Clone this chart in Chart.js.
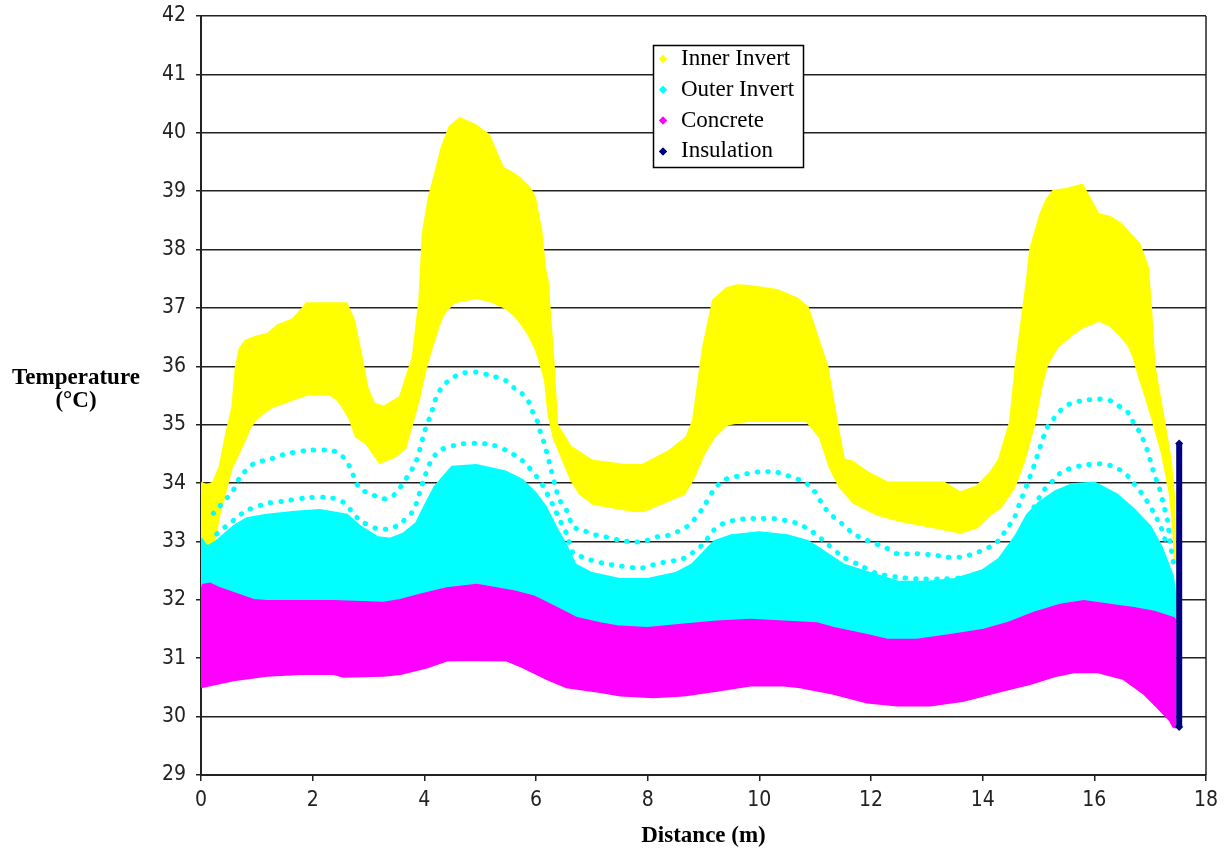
<!DOCTYPE html>
<html>
<head>
<meta charset="utf-8">
<title>Temperature vs Distance</title>
<script src="https://cdn.jsdelivr.net/npm/chart.js@4.4.0/dist/chart.umd.min.js"></script>
<style>
  html, body { margin: 0; padding: 0; background: #fff; }
  #wrap { width: 1225px; height: 850px; }
</style>
</head>
<body>
<div id="wrap"><canvas id="chart" width="1225" height="850"></canvas></div>
<script>
// series names as in the legend
const seriesNames = ['Inner Invert', 'Outer Invert', 'Concrete', 'Insulation'];

// Inner Invert: upper and lower edge of the yellow cloud [distance, temperature]
const innerTop = [[0,34.0],[0.1,33.95],[0.22,34.0],[0.34,34.27],[0.45,34.8],[0.57,35.3],[0.63,35.97],[0.7,36.3],[0.8,36.43],[0.98,36.5],[1.2,36.55],[1.38,36.7],[1.65,36.8],[1.9,37.07],[2.6,37.07],[2.73,36.8],[2.86,36.2],[2.97,35.64],[3.09,35.36],[3.27,35.3],[3.57,35.47],[3.8,36.15],[3.92,37.13],[3.98,38.27],[4.09,38.9],[4.2,39.3],[4.32,39.75],[4.46,40.1],[4.64,40.24],[4.9,40.13],[5.15,39.96],[5.4,39.4],[5.58,39.3],[5.73,39.2],[5.88,39.05],[5.97,38.9],[6.09,38.3],[6.15,37.7],[6.2,37.47],[6.31,36.0],[6.37,35.0],[6.61,34.62],[7.0,34.38],[7.6,34.3],[7.9,34.3],[8.4,34.55],[8.7,34.78],[8.82,35.07],[9.0,36.32],[9.18,37.13],[9.42,37.33],[9.6,37.38],[9.8,37.37],[10.32,37.3],[10.68,37.15],[10.86,37.01],[11.21,36.0],[11.39,35.0],[11.51,34.39],[11.65,34.37],[11.95,34.17],[12.3,34.0],[13.3,34.0],[13.6,33.83],[13.9,33.94],[14.14,34.17],[14.3,34.4],[14.5,35.05],[14.6,36.0],[14.8,37.47],[14.86,38.0],[15.04,38.6],[15.15,38.85],[15.27,39.0],[15.5,39.03],[15.78,39.1],[16.07,38.6],[16.28,38.55],[16.45,38.45],[16.6,38.3],[16.8,38.1],[16.95,37.7],[17.0,37.1],[17.07,36.0],[17.24,35.07],[17.36,34.39],[17.42,33.76],[17.45,32.62]];
const innerLow = [[0,33.0],[0.1,32.85],[0.22,32.87],[0.25,33.1],[0.32,33.45],[0.43,33.85],[0.54,34.26],[0.65,34.47],[0.76,34.7],[0.87,34.95],[0.98,35.1],[1.1,35.2],[1.25,35.3],[1.43,35.36],[1.68,35.45],[1.92,35.53],[2.3,35.53],[2.45,35.43],[2.55,35.3],[2.67,35.1],[2.78,34.8],[2.97,34.68],[3.2,34.36],[3.45,34.45],[3.65,34.6],[3.77,35.0],[3.9,35.45],[4.0,35.9],[4.12,36.3],[4.25,36.7],[4.34,36.9],[4.52,37.1],[4.93,37.18],[5.19,37.12],[5.45,37.01],[5.63,36.87],[5.75,36.72],[5.87,36.55],[5.99,36.32],[6.07,36.1],[6.17,35.76],[6.23,35.19],[6.32,34.79],[6.49,34.39],[6.64,34.05],[6.79,33.82],[7.03,33.65],[7.75,33.53],[7.93,33.53],[8.35,33.7],[8.65,33.82],[8.82,34.1],[9.0,34.5],[9.18,34.79],[9.42,35.01],[9.78,35.07],[10.68,35.07],[10.85,35.07],[11.09,34.79],[11.27,34.27],[11.45,33.93],[11.69,33.67],[12.11,33.47],[12.53,33.36],[13.12,33.25],[13.6,33.16],[13.9,33.25],[14.14,33.47],[14.32,33.59],[14.56,33.93],[14.74,34.39],[14.92,35.02],[15.03,35.59],[15.15,36.04],[15.33,36.33],[15.57,36.53],[15.78,36.67],[16.08,36.79],[16.29,36.7],[16.47,36.53],[16.62,36.36],[16.71,36.16],[16.83,35.76],[16.95,35.41],[17.07,35.02],[17.22,34.5],[17.36,33.82],[17.42,33.25],[17.45,32.62]];

// Outer Invert: top of the dense cyan band and the two separate dotted curves
const outerTop = [[0,33.05],[0.1,32.9],[0.28,33.0],[0.58,33.25],[0.82,33.39],[1.18,33.45],[1.68,33.5],[2.13,33.53],[2.61,33.45],[2.85,33.25],[3.15,33.07],[3.39,33.04],[3.63,33.13],[3.86,33.31],[4.01,33.6],[4.19,33.93],[4.5,34.27],[4.93,34.3],[5.45,34.19],[5.75,34.05],[5.99,33.82],[6.17,33.59],[6.35,33.25],[6.52,32.96],[6.7,32.6],[7.0,32.45],[7.5,32.35],[8.0,32.35],[8.5,32.45],[8.8,32.6],[9.0,32.8],[9.2,33.0],[9.5,33.1],[10.0,33.15],[10.5,33.1],[10.86,33.0],[11.03,32.9],[11.5,32.6],[12.0,32.45],[12.5,32.3],[13.0,32.3],[13.5,32.35],[14.0,32.5],[14.3,32.7],[14.6,33.1],[14.8,33.45],[15.0,33.65],[15.3,33.85],[15.6,33.97],[16.0,34.0],[16.4,33.8],[16.7,33.55],[17.0,33.25],[17.2,32.9],[17.4,32.4],[17.47,31.9]];
const outerCurveA = [[0.22,33.48],[0.58,33.88],[0.7,34.1],[0.94,34.33],[1.24,34.41],[1.48,34.49],[1.92,34.56],[2.31,34.56],[2.49,34.5],[2.67,34.27],[2.76,34.05],[2.85,33.9],[3.03,33.82],[3.27,33.73],[3.45,33.79],[3.69,34.1],[3.86,34.39],[4.01,34.9],[4.13,35.21],[4.19,35.41],[4.28,35.59],[4.37,35.7],[4.52,35.81],[4.67,35.88],[4.93,35.9],[5.19,35.84],[5.45,35.76],[5.63,35.61],[5.75,35.53],[5.87,35.39],[5.93,35.24],[6.02,35.07],[6.07,34.9],[6.14,34.7],[6.2,34.5],[6.26,34.27],[6.35,33.93],[6.43,33.7],[6.55,33.53],[6.67,33.25],[6.85,33.19],[6.99,33.13],[7.24,33.08],[7.51,33.02],[7.75,32.99],[7.93,33.0],[8.17,33.08],[8.35,33.1],[8.52,33.16],[8.7,33.25],[8.82,33.36],[9.0,33.59],[9.18,33.88],[9.36,34.05],[9.54,34.1],[9.78,34.16],[9.99,34.19],[10.29,34.19],[10.5,34.13],[10.73,34.05],[10.85,33.99],[10.97,33.88],[11.09,33.7],[11.21,33.53],[11.33,33.42],[11.51,33.28],[11.69,33.13],[11.93,33.02],[12.29,32.88],[12.47,32.79],[12.82,32.79],[13.18,32.76],[13.36,32.73],[13.6,32.73],[13.84,32.79],[14.0,32.85],[14.17,32.93],[14.32,33.05],[14.43,33.22],[14.56,33.39],[14.68,33.7],[14.8,33.99],[14.92,34.3],[15.03,34.62],[15.15,34.94],[15.27,35.1],[15.39,35.24],[15.57,35.36],[15.78,35.41],[16.08,35.44],[16.29,35.41],[16.47,35.3],[16.62,35.19],[16.71,35.02],[16.83,34.84],[16.95,34.56],[17.01,34.36],[17.07,34.16],[17.16,33.93],[17.25,33.59],[17.31,33.36],[17.36,32.96],[17.42,32.62]];
const outerCurveB = [[0.28,33.13],[0.58,33.36],[0.82,33.53],[1.18,33.65],[1.48,33.69],[1.92,33.75],[2.31,33.75],[2.55,33.67],[2.73,33.48],[2.85,33.36],[3.15,33.22],[3.39,33.22],[3.57,33.31],[3.8,33.53],[3.97,34.0],[4.13,34.4],[4.3,34.57],[4.52,34.64],[4.67,34.67],[4.93,34.68],[5.19,34.66],[5.45,34.57],[5.63,34.47],[5.75,34.39],[5.87,34.27],[6.02,34.1],[6.14,33.93],[6.23,33.76],[6.32,33.59],[6.43,33.36],[6.55,33.13],[6.67,32.79],[6.85,32.73],[6.99,32.68],[7.24,32.62],[7.51,32.58],[7.75,32.55],[7.93,32.55],[8.17,32.62],[8.35,32.65],[8.52,32.68],[8.7,32.73],[8.82,32.82],[9.0,32.96],[9.18,33.19],[9.36,33.31],[9.54,33.36],[9.78,33.39],[9.99,33.39],[10.29,33.39],[10.5,33.35],[10.68,33.31],[10.86,33.22],[11.03,33.11],[11.21,32.96],[11.51,32.73],[11.81,32.59],[12.11,32.45],[12.47,32.39],[12.82,32.36],[13.3,32.36],[13.7,32.38],[14.14,32.4],[14.32,32.62],[14.56,32.9],[14.8,33.36],[14.92,33.59],[15.1,33.88],[15.27,34.05],[15.39,34.17],[15.57,34.25],[15.78,34.3],[16.08,34.33],[16.29,34.3],[16.47,34.22],[16.62,34.1],[16.71,33.99],[16.83,33.85],[16.95,33.68],[17.07,33.48],[17.19,33.25],[17.31,32.9]];

// Concrete: upper and lower edge of the magenta band
const concreteTop = [[0,32.1],[0.04,32.25],[0.16,32.27],[0.34,32.19],[0.58,32.11],[0.94,31.99],[1.18,31.97],[2.37,31.97],[3.27,31.94],[3.57,31.99],[3.92,32.08],[4.4,32.19],[4.94,32.25],[5.6,32.14],[5.96,32.05],[6.32,31.88],[6.73,31.68],[7.15,31.59],[7.45,31.54],[7.99,31.51],[8.65,31.57],[9.24,31.62],[9.84,31.65],[10.44,31.62],[11.03,31.59],[11.33,31.51],[11.93,31.39],[12.29,31.31],[12.82,31.31],[13.42,31.39],[14.02,31.48],[14.43,31.59],[14.92,31.77],[15.39,31.91],[15.81,31.97],[16.47,31.88],[16.71,31.85],[17.07,31.79],[17.42,31.68],[17.47,31.6]];
const concreteLow = [[0,30.51],[0.58,30.63],[1.18,30.71],[1.78,30.74],[2.37,30.74],[2.55,30.69],[3.27,30.71],[3.57,30.74],[4.04,30.85],[4.4,30.97],[4.75,30.98],[5.47,30.97],[5.77,30.85],[6.2,30.65],[6.55,30.51],[7.15,30.43],[7.51,30.37],[8.11,30.34],[8.65,30.37],[9.24,30.45],[9.84,30.54],[10.44,30.54],[10.73,30.51],[11.33,30.4],[11.93,30.25],[12.47,30.2],[13.06,30.2],[13.66,30.28],[14.26,30.43],[14.86,30.57],[15.33,30.71],[15.63,30.77],[16.05,30.77],[16.53,30.65],[16.89,30.4],[17.13,30.17],[17.36,29.94],[17.42,29.83],[17.47,29.82]];

// Insulation: single column of points at the end of the section
const insulation = [[17.52,29.82],[17.52,34.68]];

const colInner = '#ffff00';
const colOuter = '#00ffff';
const colConcrete = '#ff00ff';
const colInsulation = '#000080';
const legendColors = [colInner, colOuter, colConcrete, colInsulation];

const toXY = arr => arr.map(p => ({ x: p[0], y: p[1] }));

function band(data, color, order, fill) {
    return {
        data: toXY(data),
        showLine: true,
        borderColor: color,
        backgroundColor: color,
        borderWidth: 3,
        pointRadius: 0,
        tension: 0,
        fill: fill,
        order: order
    };
}

function dotted(data, color, order) {
    return {
        data: toXY(data),
        showLine: true,
        borderColor: color,
        borderWidth: 5,
        borderDash: [0.5, 10],
        borderCapStyle: 'round',
        pointRadius: 0,
        tension: 0.3,
        fill: false,
        order: order
    };
}

// legend box, right frame and horizontal axis titles, drawn like the original
const extras = {
    id: 'extras',
    afterDraw(chart) {
        const ctx = chart.ctx;
        const area = chart.chartArea;
        ctx.save();
        ctx.strokeStyle = '#222';
        ctx.lineWidth = 1.5;
        ctx.beginPath();
        ctx.moveTo(area.right, area.top);
        ctx.lineTo(area.right, area.bottom);
        ctx.stroke();

        // legend
        ctx.fillStyle = '#fff';
        ctx.fillRect(653, 45, 150, 122);
        ctx.strokeStyle = '#000';
        ctx.lineWidth = 1.5;
        ctx.strokeRect(653.5, 45.5, 150, 122);
        ctx.font = '23px "Liberation Serif", "Times New Roman", serif';
        ctx.textBaseline = 'middle';
        ctx.textAlign = 'left';
        seriesNames.forEach((name, i) => {
            const y = 59 + i * 30.8;
            ctx.fillStyle = legendColors[i];
            Chart.helpers.drawPoint(ctx, { pointStyle: 'rectRot', radius: 4, borderWidth: 0 }, 663, y);
            ctx.fill();
            ctx.fillStyle = '#000';
            ctx.fillText(name, 681, y);
        });

        // axis titles
        ctx.font = 'bold 23px "Liberation Serif", "Times New Roman", serif';
        ctx.textAlign = 'center';
        ctx.fillStyle = '#000';
        ctx.fillText('Temperature', 76, 378);
        ctx.fillText('(°C)', 76, 401);
        ctx.fillText('Distance (m)', (area.left + area.right) / 2, 836);
        ctx.restore();
    }
};

const tickFont = { family: '"Liberation Sans Narrow", "DejaVu Sans Condensed", sans-serif', size: 21 };

new Chart(document.getElementById('chart'), {
    type: 'scatter',
    data: {
        datasets: [
            // 0 insulation (top-most)
            {
                data: toXY(insulation),
                showLine: true,
                borderColor: colInsulation,
                backgroundColor: colInsulation,
                borderWidth: 6,
                pointStyle: 'rectRot',
                pointRadius: 4,
                pointBorderWidth: 0,
                fill: false,
                order: 1
            },
            // 1, 2 concrete band
            band(concreteTop, colConcrete, 2, false),
            band(concreteLow, colConcrete, 2, 1),
            // 3, 4, 5 outer invert
            band(outerTop, colOuter, 3, 1),
            dotted(outerCurveA, colOuter, 3),
            dotted(outerCurveB, colOuter, 3),
            // 6, 7 inner invert
            band(innerLow, colInner, 4, false),
            band(innerTop, colInner, 4, 6)
        ]
    },
    options: {
        responsive: false,
        animation: false,
        layout: { padding: { top: 16, right: 19, left: 0, bottom: 0 } },
        plugins: {
            legend: { display: false },
            tooltip: { enabled: false }
        },
        scales: {
            x: {
                type: 'linear',
                min: 0,
                max: 18,
                ticks: { stepSize: 2, color: '#222', font: tickFont, padding: 7, maxRotation: 0 },
                grid: { drawOnChartArea: false, drawTicks: true, tickLength: 6, color: '#222', lineWidth: 1.5 },
                border: { color: '#222', width: 2 },
                afterFit: scale => { scale.height = 75; scale.paddingLeft = 0; scale.paddingRight = 0; }
            },
            y: {
                type: 'linear',
                min: 29,
                max: 42,
                ticks: { stepSize: 1, color: '#222', font: tickFont, padding: 10 },
                grid: { color: '#222', lineWidth: 1.5, tickLength: 5 },
                border: { color: '#222', width: 2 },
                afterFit: scale => { scale.width = 201; scale.paddingTop = 0; scale.paddingBottom = 0; }
            }
        }
    },
    plugins: [extras]
});
</script>
</body>
</html>
